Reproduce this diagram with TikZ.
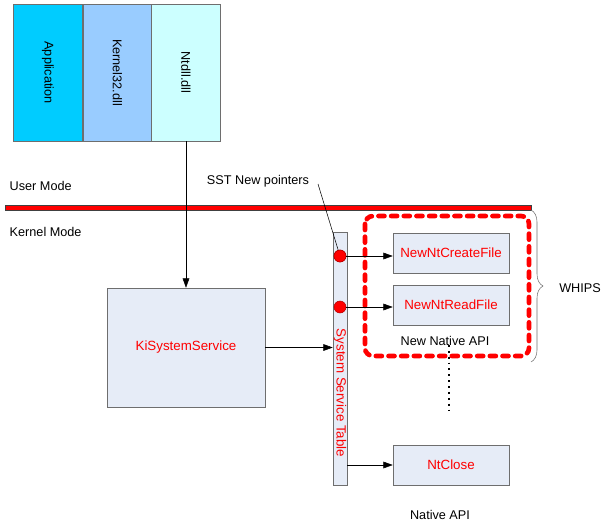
\documentclass[tikz,border=0pt]{standalone}
\usepackage{fontspec}
\setmainfont{Liberation Sans}
\usetikzlibrary{arrows.meta,decorations.pathreplacing}
\definecolor{appblue}{HTML}{00CCFF}
\definecolor{kernblue}{HTML}{99CCFF}
\definecolor{ntblue}{HTML}{CCFFFF}
\definecolor{boxfill}{HTML}{E6ECF7}
\definecolor{edgegray}{HTML}{6E6E6E}
\begin{document}
\begin{tikzpicture}[x=0.75pt, y=-0.75pt,
		every node/.style={font=\fontsize{9.5}{11}\selectfont},
		layer/.style={draw=edgegray, minimum width=52pt, minimum height=102.75pt, inner sep=0pt},
		apibox/.style={draw=edgegray, fill=boxfill, text=red, minimum width=87pt, minimum height=30pt, font=\fontsize{10}{12}\selectfont},
		ptrdot/.style={circle, fill=red, draw=red!70!black, minimum size=9pt, inner sep=0pt},
		arrow/.style={-{Triangle[length=7pt, width=5pt]}},
	]
	\useasboundingbox (0,0) rectangle (602,526);

	\node[layer, fill=appblue] (app)    at (48,72.5)  {\rotatebox{-90}{Application}};
	\node[layer, fill=kernblue] (kern32) at (117.5,72.5) {\rotatebox{-90}{Kernel32.dll}};
	\node[layer, fill=ntblue] (ntdll)  at (186,72.5)  {\rotatebox{-90}{Ntdll.dll}};

	\node[anchor=west] (umode) at (5,186) {User Mode};
	\node[anchor=west] (kmode) at (5,232) {Kernel Mode};
	\draw[draw=black!75, fill=red] (5,205.5) rectangle (531,210.5);

	\node[draw=edgegray, fill=boxfill, text=red, minimum width=118.5pt, minimum height=89.25pt, font=\fontsize{10}{12}\selectfont] (kiss) at (186,347.5) {KiSystemService};
	\node[draw=edgegray, fill=boxfill, minimum width=10.5pt, minimum height=189.75pt, inner sep=0pt] (sst) at (340,358.5) {};
	\node[text=red, font=\fontsize{10}{12}\selectfont] (sstname) at (340,393) {\rotatebox{-90}{System Service Table}};

	\node[apibox] (ncreate) at (451,253) {NewNtCreateFile};
	\node[apibox] (nread)   at (451,305) {NewNtReadFile};
	\node[apibox] (nclose)  at (451,465) {NtClose};

	\node (sstlbl) at (258,181) {SST New pointers};
	\coordinate (ptrfoot) at (318,184);
	\node[ptrdot] (p1) at (340,256) {};
	\node[ptrdot] (p2) at (340,307) {};
	\draw (ptrfoot) -- (p1.center);
	\node[ptrdot] at (p1) {};

	\draw[red, line width=3.5pt, line cap=round, dash pattern=on 4.5pt off 5pt, rounded corners=6pt] (365,216) rectangle (529,356);
	\node (newapi) at (445,341) {New Native API};
	\node (natapi) at (440,515) {Native API};

	\coordinate (bracetop) at (531,210);
	\coordinate (bracebot) at (531,362);
	\draw[edgegray, decorate, decoration={brace, amplitude=9pt}] (bracetop) -- (bracebot);
	\node (whips) at (580,288) {WHIPS};

	\coordinate (dottop) at (449,345);
	\coordinate (dotbot) at (449,415);
	\draw[line width=1.4pt, dash pattern=on 1.4pt off 3pt] (dottop) -- (dotbot);

	\draw[arrow] (ntdll.south) -- (kiss.north);
	\draw[arrow] (kiss.east) -- (kiss.east -| sst.west);
	\draw[arrow] (p1.east) -- (p1 -| ncreate.west);
	\draw[arrow] (p2.east) -- (p2 -| nread.west);
	\draw[arrow] (nclose.west -| sst.east) -- (nclose.west);
\end{tikzpicture}
\end{document}
